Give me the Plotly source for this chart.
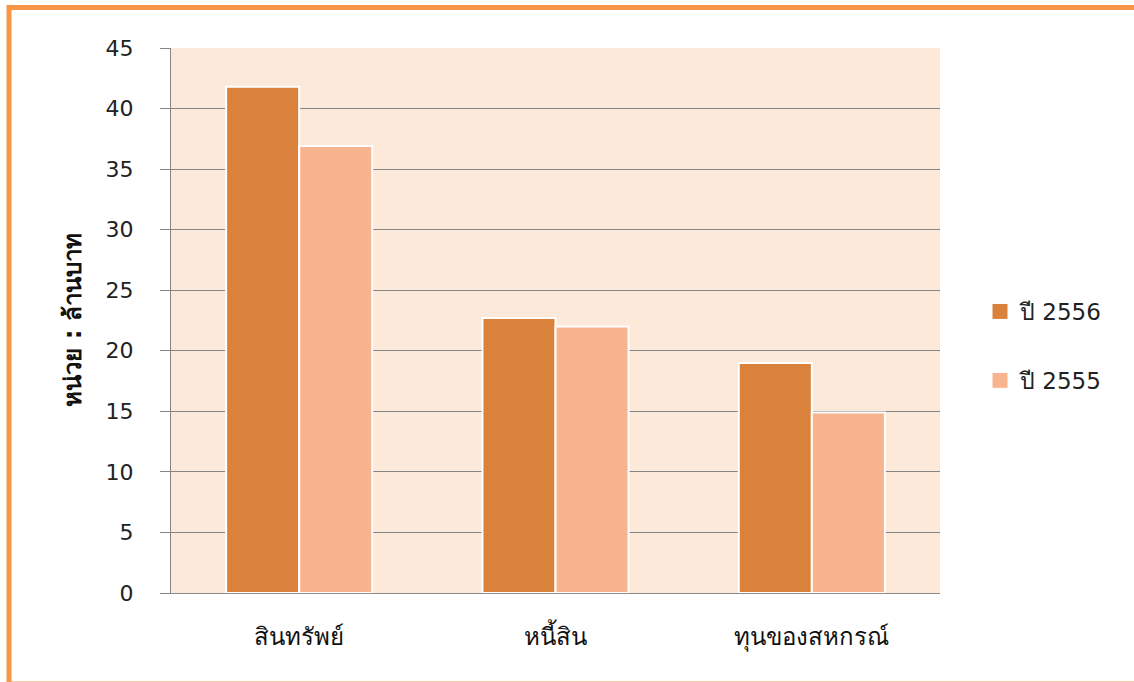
import plotly.graph_objects as go

categories = ["สินทรัพย์", "หนี้สิน", "ทุนของสหกรณ์"]
series_names = ["ปี 2556", "ปี 2555"]
values_2556 = [41.8, 22.7, 19.0]
values_2555 = [36.9, 22.0, 14.9]
y_ticks = [0, 5, 10, 15, 20, 25, 30, 35, 40, 45]
y_title = "หน่วย : ล้านบาท"

colors = ["#DA823C", "#F8B48F"]

W, H = 1134, 682
L, R, T, B = 171, 194, 48, 89
pw, ph = W - L - R, H - T - B

def px_to_paper_x(px):
    return (px - L) / pw

def px_to_paper_y(py):
    return (H - B - py) / ph

fig = go.Figure()
for name, vals, col in zip(series_names, [values_2556, values_2555], colors):
    fig.add_trace(go.Bar(
        x=categories, y=vals, name=name, showlegend=False,
        marker=dict(color=col, line=dict(color="white", width=2)),
    ))
# legend proxies with larger square symbols
for i, (name, col) in enumerate(zip(series_names, colors)):
    fig.add_trace(go.Scatter(
        x=[None], y=[None], mode="markers", name=name, legendgroup=f"g{i}",
        marker=dict(symbol="square", size=20, color=col, line=dict(color="white", width=1)),
    ))

fig.update_layout(
    width=W, height=H,
    margin=dict(l=L, r=R, t=T, b=B, autoexpand=False),
    paper_bgcolor="white",
    plot_bgcolor="#FDE9D9",
    barmode="group",
    bargap=0.43,
    bargroupgap=0,
    font=dict(family="DejaVu Sans", color="#222222"),
    showlegend=True,
    legend=dict(
        x=px_to_paper_x(980), y=px_to_paper_y(290), xanchor="left", yanchor="top",
        traceorder="grouped", tracegroupgap=36,
        font=dict(size=23, family="DejaVu Sans", color="#222222"),
        bgcolor="rgba(0,0,0,0)",
    ),
    xaxis=dict(
        showgrid=False, showline=True, linecolor="#8C8C8C", linewidth=1,
        ticks="", tickfont=dict(size=24, color="#111111"),
        ticklabelstandoff=22,
    ),
    yaxis=dict(
        range=[0, 45], tickvals=y_ticks, showgrid=True, gridcolor="#858585", gridwidth=1,
        showline=True, linecolor="#858585", linewidth=1,
        ticks="outside", ticklen=10, tickcolor="#858585",
        tickfont=dict(size=22, color="#222222"), ticklabelstandoff=22,
        zeroline=False,
    ),
    annotations=[dict(
        text=f"<b>{y_title}</b>", textangle=-90, showarrow=False,
        xref="paper", yref="paper", x=px_to_paper_x(72), y=0.5,
        xanchor="center", yanchor="middle",
        font=dict(size=24, color="#111111"),
    )],
    shapes=[dict(
        type="rect", xref="paper", yref="paper",
        x0=px_to_paper_x(9), x1=px_to_paper_x(1145),
        y0=px_to_paper_y(684), y1=px_to_paper_y(7.5),
        line=dict(color="#F79646", width=5), layer="below",
    )],
)

fig.write_html("out.html", config={"displayModeBar": False},
               post_script="document.body.style.margin='0px';")
